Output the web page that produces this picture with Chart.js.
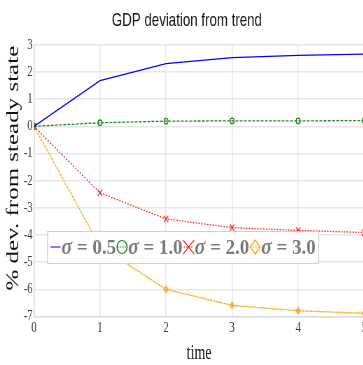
<!DOCTYPE html>
<html>
<head>
<meta charset="utf-8">
<script src="https://cdn.jsdelivr.net/npm/chart.js@4"></script>
<style>
  html, body { margin: 0; padding: 0; background: #fff; overflow: hidden; width: 363px; height: 365px; }
  /* the original picture is squeezed sideways, so the chart is drawn wide and scaled down */
  #wrap { width: 527px; height: 365px; transform: scaleX(0.7); transform-origin: 0 0; }
</style>
</head>
<body>
<div id="wrap"><canvas id="gdpChart"></canvas></div>
<script>
const SQ = 0.7;

const times = [0, 1, 2, 3, 4, 5];
const sigma05 = [0, 1.68, 2.31, 2.53, 2.61, 2.66];
const sigma10 = [0, 0.13, 0.19, 0.2, 0.2, 0.21];
const sigma20 = [0, -2.45, -3.41, -3.73, -3.83, -3.91];
const sigma30 = [0, -4.42, -6.0, -6.59, -6.79, -6.88];
const sigmaValues = ['0.5', '1.0', '2.0', '3.0'];

const pts = vals => vals.map((v, i) => ({ x: times[i], y: v }));

// legend box sitting inside the plot area (drawn in screen px)
const innerLegend = {
  id: 'innerLegend',
  afterDraw(chart) {
    const ctx = chart.ctx;
    ctx.save();
    ctx.scale(1 / SQ, 1);
    const x0 = 47, y0 = 231, w = 271, h = 32;
    ctx.fillStyle = 'rgba(255,255,255,0.85)';
    ctx.fillRect(x0, y0, w, h);
    ctx.strokeStyle = '#d0d0d0';
    ctx.lineWidth = 1;
    ctx.strokeRect(x0 + 0.5, y0 + 0.5, w, h);
    const cy = y0 + h / 2;
    let x = x0 + 3.5;
    chart.data.datasets.forEach((ds, i) => {
      const mx = x + 5;
      ctx.strokeStyle = ds.borderColor;
      ctx.lineWidth = 1;
      ctx.setLineDash(i === 0 ? [] : [1.5, 1]);
      ctx.beginPath();
      ctx.moveTo(x, cy); ctx.lineTo(x + 10, cy);
      ctx.stroke();
      ctx.setLineDash([]);
      ctx.lineWidth = 1.2;
      if (i === 1) {
        ctx.beginPath(); ctx.ellipse(mx, cy, 5, 6.5, 0, 0, Math.PI * 2); ctx.stroke();
      } else if (i === 2) {
        ctx.beginPath();
        ctx.moveTo(mx - 5.5, cy - 7); ctx.lineTo(mx + 5.5, cy + 7);
        ctx.moveTo(mx + 5.5, cy - 7); ctx.lineTo(mx - 5.5, cy + 7);
        ctx.stroke();
      } else if (i === 3) {
        ctx.beginPath();
        ctx.moveTo(mx, cy - 7); ctx.lineTo(mx + 5, cy); ctx.lineTo(mx, cy + 7); ctx.lineTo(mx - 5, cy);
        ctx.closePath(); ctx.stroke();
      }
      x += 11;
      // text: italic sigma then the value
      ctx.save();
      ctx.translate(x, cy + 1);
      ctx.scale(0.86, 1);
      ctx.fillStyle = '#7a7a7a';
      ctx.textBaseline = 'middle';
      ctx.font = 'bold italic 23px "Liberation Serif"';
      ctx.fillText('σ', 0, 0);
      let tw = ctx.measureText('σ').width;
      ctx.font = 'bold 22px "Liberation Serif"';
      const rest = ' = ' + sigmaValues[i];
      ctx.fillText(rest, tw, 0);
      tw += ctx.measureText(rest).width;
      ctx.restore();
      x += tw * 0.86 + 1;
    });
    ctx.restore();
  }
};

new Chart(document.getElementById('gdpChart'), {
  type: 'line',
  data: {
    datasets: [
      { label: 'σ = ' + sigmaValues[0], data: pts(sigma05), borderColor: '#0000ff', borderWidth: 1.3,
        pointRadius: 0, tension: 0 },
      { label: 'σ = ' + sigmaValues[1], data: pts(sigma10), borderColor: '#1e8a1e', borderWidth: 1.3,
        borderDash: [4, 2], pointStyle: 'circle', pointRadius: 2.8, pointBorderWidth: 1.3,
        pointBackgroundColor: 'rgba(255,255,255,0)', tension: 0 },
      { label: 'σ = ' + sigmaValues[2], data: pts(sigma20), borderColor: '#ff2020', borderWidth: 1.3,
        borderDash: [2, 2], pointStyle: 'crossRot', pointRadius: 4.5, pointBorderWidth: 1.2, tension: 0 },
      { label: 'σ = ' + sigmaValues[3], data: pts(sigma30), borderColor: '#ffa500', borderWidth: 1.3,
        borderDash: [3, 1], pointStyle: 'rectRot', pointRadius: 3.6, pointBorderWidth: 1,
        pointBackgroundColor: 'rgba(225,170,90,0.75)', tension: 0 }
    ]
  },
  options: {
    responsive: true,
    maintainAspectRatio: false,
    animation: false,
    layout: { padding: { left: 7, right: 0, top: 4, bottom: 0 } },
    plugins: {
      legend: { display: false },
      tooltip: { enabled: false },
      title: {
        display: true, text: 'GDP deviation from trend', color: '#111',
        font: { family: 'Liberation Sans', size: 19, weight: 'normal' },
        padding: { top: 5, bottom: 13 }
      }
    },
    scales: {
      x: {
        type: 'linear', min: 0, max: 5,
        ticks: { stepSize: 1, color: '#333', padding: 3, font: { family: 'Liberation Serif', size: 15, lineHeight: 1.1 } },
        grid: { color: '#e6e6e6', lineWidth: 1.5, drawTicks: false },
        border: { color: '#dcdcdc', width: 1.5 },
        title: { display: true, text: 'time', color: '#111', padding: { top: 4, bottom: 0 },
          font: { family: 'Liberation Serif', size: 20, lineHeight: 1.1 } }
      },
      y: {
        min: -7, max: 3,
        ticks: { stepSize: 1, color: '#333', padding: 2, font: { family: 'Liberation Serif', size: 15 } },
        grid: { color: '#e6e6e6', lineWidth: 1.5, drawTicks: false },
        border: { color: '#dcdcdc', width: 1.5 },
        title: { display: true, text: '\u00a0\u00a0\u00a0\u00a0% dev. from steady state', color: '#111',
          padding: { top: 0, bottom: 0 },
          font: { family: 'Liberation Serif', size: 25, lineHeight: 1.0 } }
      }
    }
  },
  plugins: [innerLegend]
});
</script>
</body>
</html>
